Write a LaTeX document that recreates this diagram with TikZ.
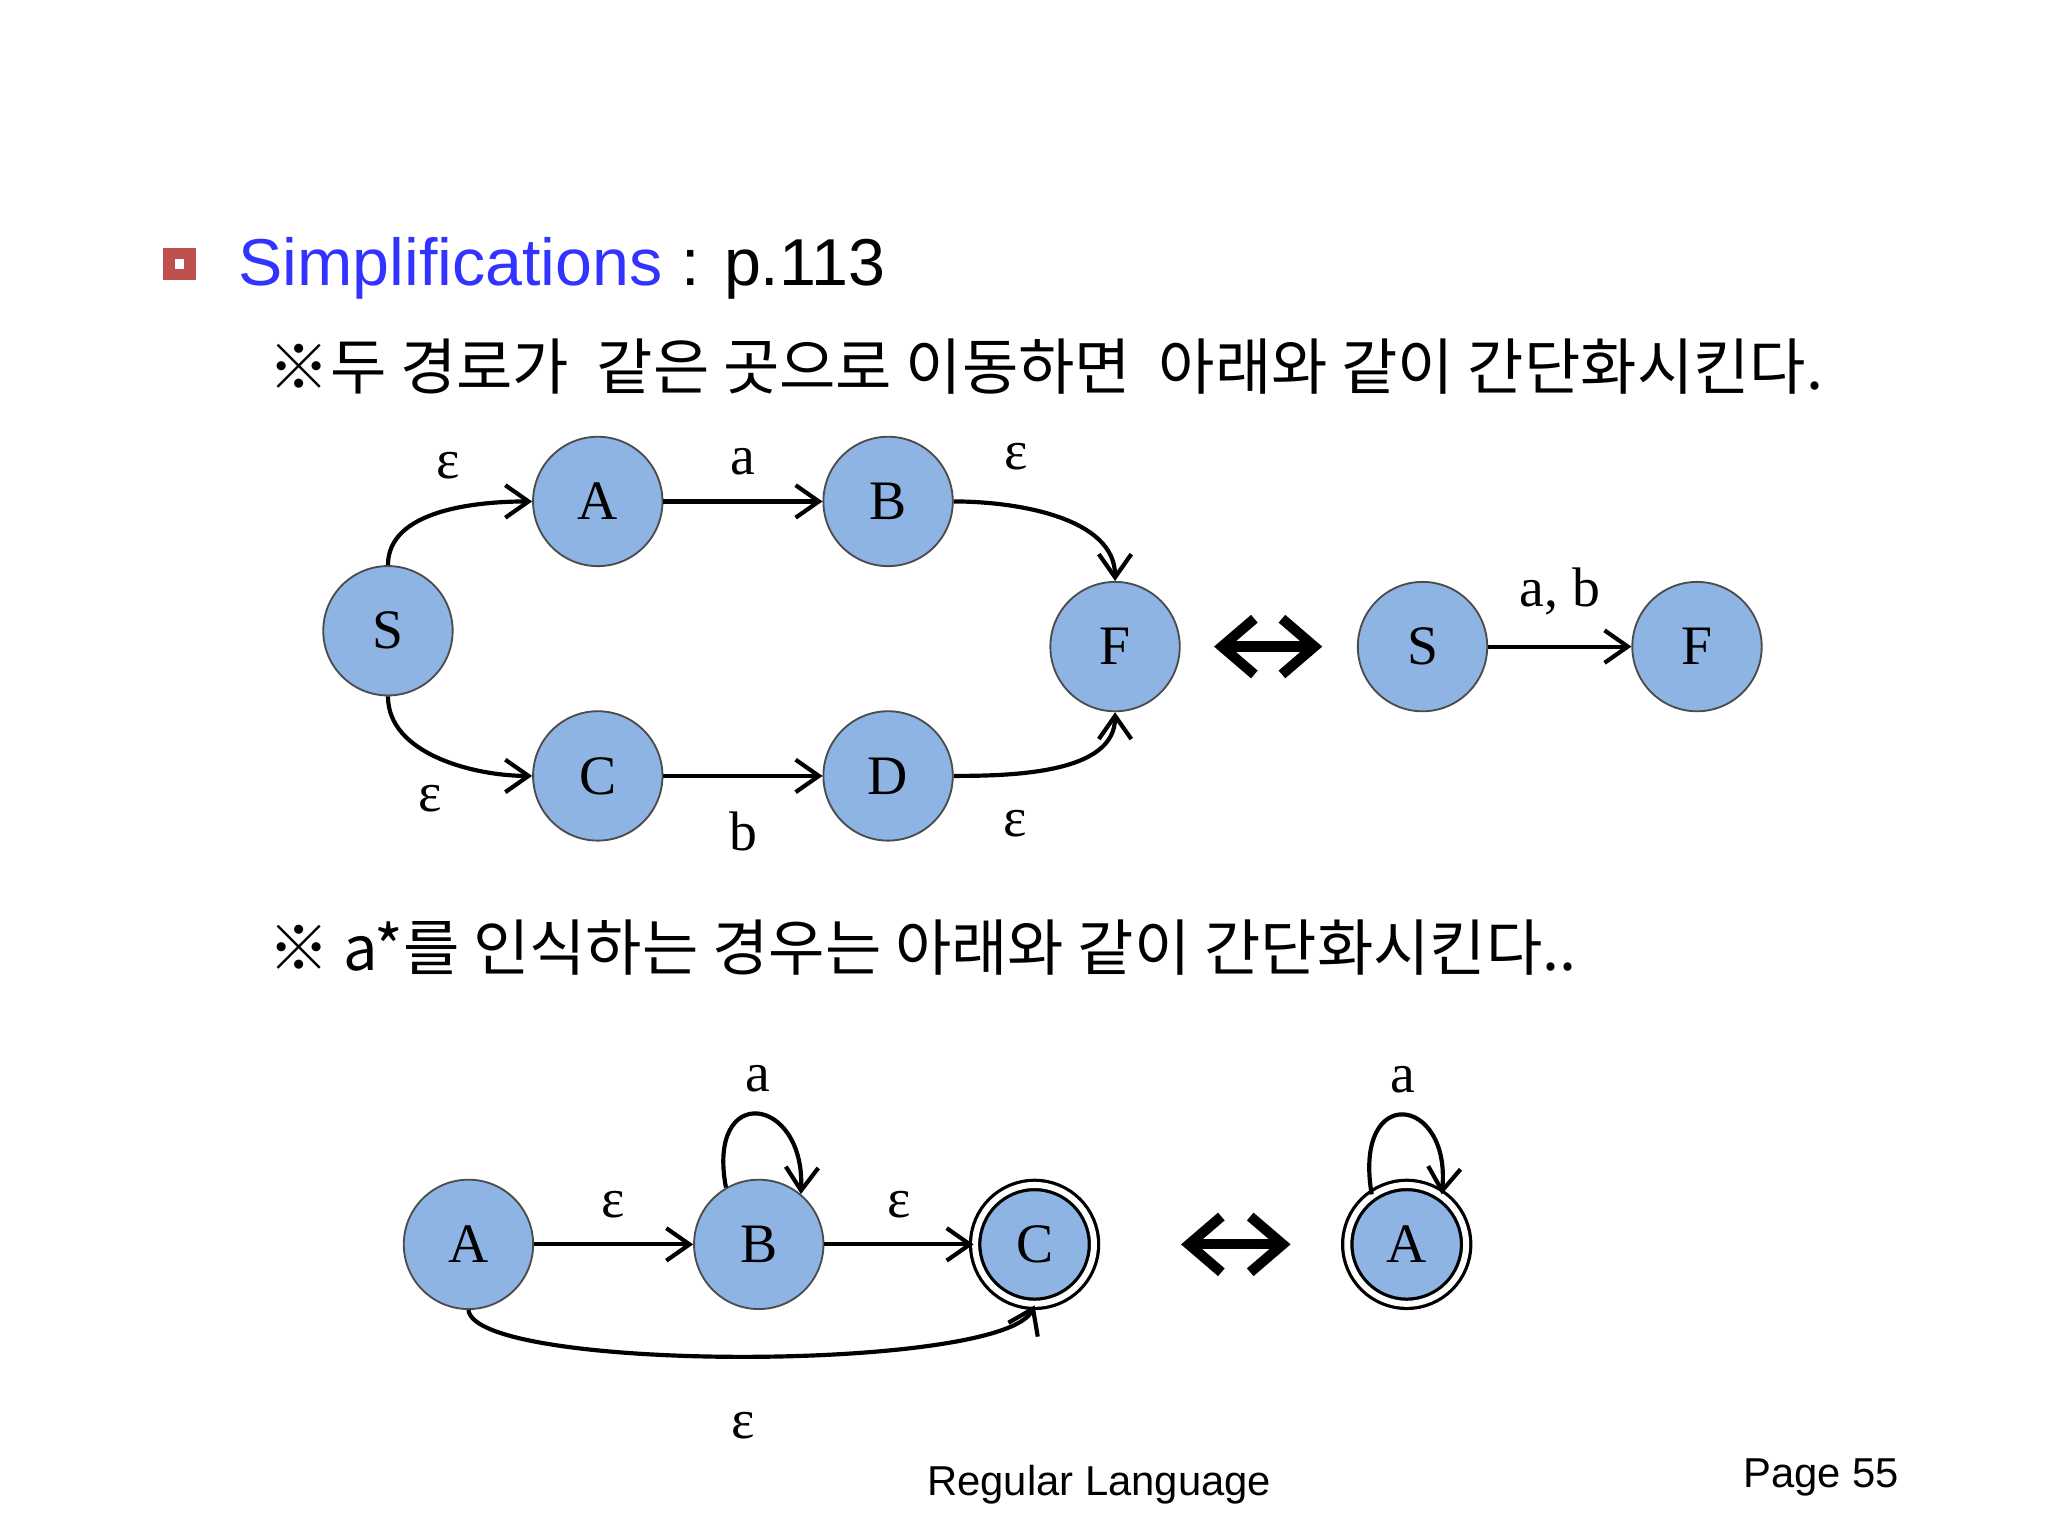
\documentclass[tikz,border=0pt]{standalone}
\usepackage{fontspec}
\setmainfont{Liberation Serif}
\newfontfamily\krfont{Noto Sans CJK KR}
\newfontfamily\sansf{Liberation Sans}
\usetikzlibrary{arrows.meta}
\definecolor{nodefill}{HTML}{8EB4E3}
\definecolor{titleblue}{HTML}{3333FF}
\definecolor{bulletred}{HTML}{C0504D}
\tikzset{
  st/.style={circle,draw=black!70,fill=nodefill,minimum size=0.98cm,inner sep=0pt,font=\fontsize{12}{12}\selectfont},
  acc/.style={st,draw=black,double=white,double distance=1.3pt,line width=0.7pt,minimum size=0.9cm},
  tr/.style={-{Straight Barb[length=5pt,width=7pt]},line width=0.9pt},
  lab/.style={font=\fontsize{12}{12}\selectfont},
  dbl/.style={{Straight Barb[length=7pt,width=12pt]}-{Straight Barb[length=7pt,width=12pt]},line width=2.2pt}
}
\begin{document}
\begin{tikzpicture}[x=0.01cm,y=-0.01cm]
\useasboundingbox (0,0) rectangle (1552,1164);
% title
\node[draw=bulletred,line width=2.5pt,fill=white,minimum size=0.16cm,inner sep=0pt] (bul) at (136,200) {};
\node[anchor=west,inner sep=0pt] (title) at (180,203) {\sansf\fontsize{14.3}{15}\selectfont\textcolor{titleblue}{Simplifications} : p.113};
\node[anchor=west,inner sep=0pt] (k1) at (203,278) {\krfont\fontsize{13.2}{14}\selectfont ※두 경로가\ \ 같은 곳으로 이동하면\ \ 아래와 같이 간단화시킨다.};
\node[anchor=west,inner sep=0pt] (k2) at (203,718) {\krfont\fontsize{13.2}{14}\selectfont ※ a*를 인식하는 경우는 아래와 같이 간단화시킨다..};
% top diagram
\node[st] (S) at (294,478) {S};
\node[st] (A) at (453,380) {A};
\node[st] (B) at (673,380) {B};
\node[st] (F) at (845,490) {F};
\node[st] (C) at (453,588) {C};
\node[st] (D) at (673,588) {D};
\draw[tr] (S.north) to[out=90,in=180,looseness=0.9] node[lab,pos=0.55,above,yshift=3pt] {ε} (A.west);
\draw[tr] (S.south) to[out=-90,in=180,looseness=0.9] node[lab,pos=0.45,below,yshift=-3pt] {ε} (C.west);
\draw[tr] (A) -- node[lab,above,yshift=2pt] {a} (B);
\draw[tr] (C) -- node[lab,below,yshift=-4pt] {b} (D);
\draw[tr] (B.east) to[out=0,in=90,looseness=0.9] node[lab,pos=0.3,above,yshift=4pt] {ε} (F.north);
\draw[tr] (D.east) to[out=0,in=-90,looseness=0.9] node[lab,pos=0.3,below,yshift=-4pt] {ε} (F.south);
\coordinate (d1) at (920,490); \coordinate (d2) at (1002,490);
\draw[dbl] (d1) -- (d2);
\node[st] (S2) at (1078,490) {S};
\node[st] (F2) at (1286,490) {F};
\draw[tr] (S2) -- node[lab,above,yshift=3pt] {a, b} (F2);
% bottom diagram
\node[st] (BA) at (355,943) {A};
\node[st] (BB) at (575,943) {B};
\node[acc] (BC) at (784,943) {C};
\draw[tr] (BA) -- node[lab,above,yshift=2pt] {ε} (BB);
\draw[tr] (BB) -- node[lab,above,yshift=2pt] {ε} (BC);
\draw[tr] (BB.120) .. controls (535,820) and (610,830) .. node[lab,above,yshift=1pt] {a} (BB.50);
\draw[tr] (BA.south) .. controls (360,1040) and (760,1040) .. (BC.south);
\node[lab] (epsb) at (563,1080) {ε};
\coordinate (e1) at (895,943); \coordinate (e2) at (978,943);
\draw[dbl] (e1) -- (e2);
\node[acc] (RA) at (1066,943) {A};
\draw[tr] (RA.125) .. controls (1025,820) and (1100,830) .. node[lab,above,yshift=1pt] {a} (RA.55);
% footer
\node[inner sep=0pt] (foot) at (833,1125) {\sansf\fontsize{9}{10}\selectfont Regular Language};
\node[inner sep=0pt] (page) at (1380,1120) {\sansf\fontsize{9}{10}\selectfont Page 55};
\end{tikzpicture}
\end{document}
